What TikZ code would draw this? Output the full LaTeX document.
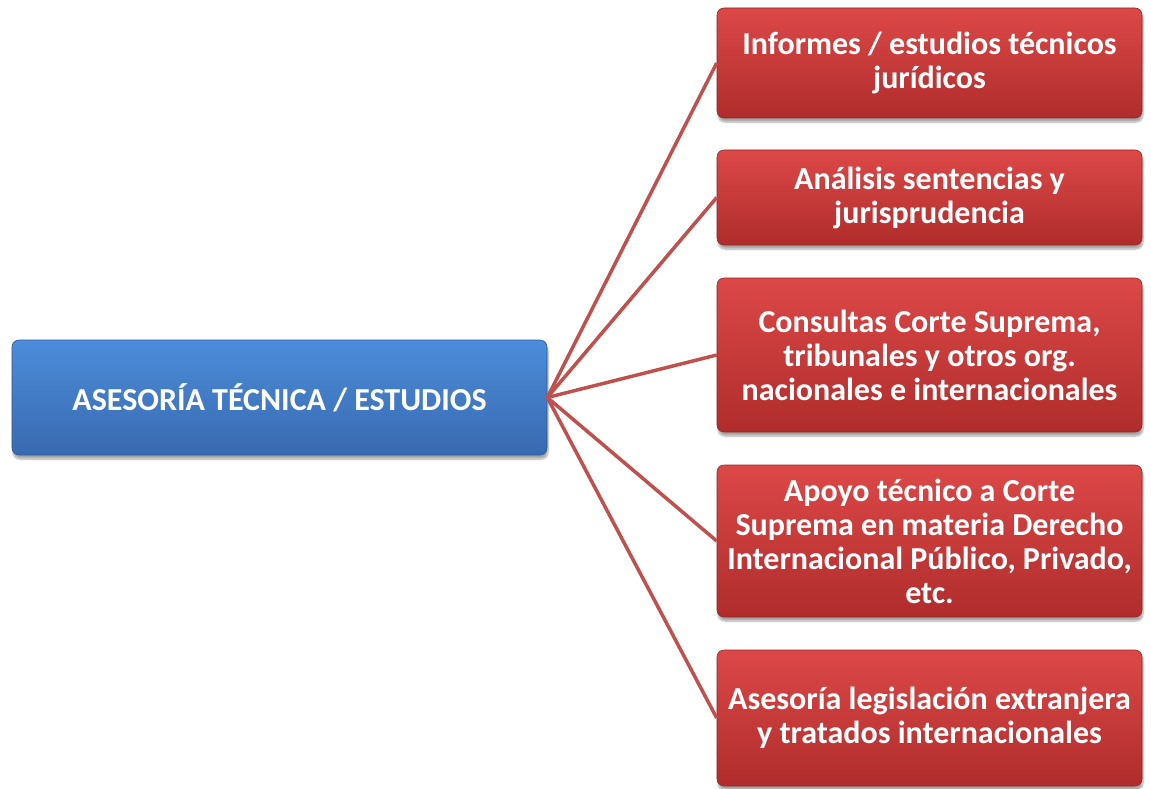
\documentclass[tikz,border=0pt]{standalone}
\usepackage{fontspec}
\setmainfont{Carlito}
\usetikzlibrary{shadows.blur}
\definecolor{redtop}{RGB}{220,72,72}
\definecolor{redbot}{RGB}{176,44,44}
\definecolor{redline}{RGB}{150,36,36}
\definecolor{bluetop}{RGB}{76,140,218}
\definecolor{bluebot}{RGB}{56,106,176}
\definecolor{blueline}{RGB}{44,86,150}
\definecolor{conn}{RGB}{192,80,77}
\tikzset{
  redbox/.style={rectangle, rounded corners=7pt, top color=redtop, bottom color=redbot,
    draw=redline, line width=0.6pt, minimum width=425pt, inner sep=0pt,
    text=white, align=center, font=\fontsize{32}{34}\selectfont\bfseries,
    blur shadow={shadow xshift=1pt, shadow yshift=-4pt, shadow blur steps=6, shadow opacity=35}},
  bluebox/.style={rectangle, rounded corners=7pt, top color=bluetop, bottom color=bluebot,
    draw=blueline, line width=0.6pt, minimum width=535pt, minimum height=115pt, inner sep=0pt,
    text=white, align=center, font=\fontsize{32}{34}\selectfont\bfseries,
    blur shadow={shadow xshift=1pt, shadow yshift=-4pt, shadow blur steps=6, shadow opacity=35}},
  connector/.style={draw=conn, line width=3.5pt}
}
\begin{document}
\begin{tikzpicture}[x=1pt,y=-1pt]
\useasboundingbox (0,0) rectangle (1151,789);
\node[bluebox] (main) at (279.5,397.5) {ASESORÍA TÉCNICA / ESTUDIOS};
\node[redbox, minimum height=110pt] (b1) at (929.5,63) {Informes / estudios técnicos\\jurídicos};
\node[redbox, minimum height=95pt] (b2) at (929.5,197.5) {Análisis sentencias y\\jurisprudencia};
\node[redbox, minimum height=154pt] (b3) at (929.5,355) {Consultas Corte Suprema,\\tribunales y otros org.\\nacionales e internacionales};
\node[redbox, minimum height=152pt] (b4) at (929.5,541) {Apoyo técnico a Corte\\Suprema en materia Derecho\\Internacional Público, Privado,\\etc.};
\node[redbox, minimum height=136pt] (b5) at (929.5,718) {Asesoría legislación extranjera\\y tratados internacionales};
\foreach \b in {b1,b2,b3,b4,b5}{
  \draw[connector] (main.east) -- (\b.west);
}
\end{tikzpicture}
\end{document}
